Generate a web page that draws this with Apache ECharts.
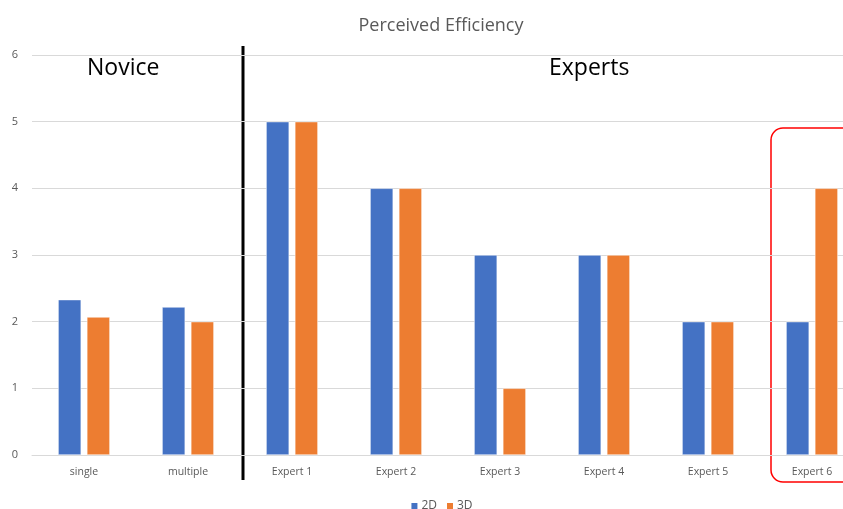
<!DOCTYPE html>
<html><head><meta charset="utf-8">
<script src="https://cdn.jsdelivr.net/npm/echarts@6/dist/echarts.min.js"></script>
<style>html,body{margin:0;padding:0;background:#fff;overflow:hidden;width:843px;height:509px}#c{width:882px;height:509px}</style>
</head><body><div id="c"></div>
<script>
const categories = ['single','multiple','Expert 1','Expert 2','Expert 3','Expert 4','Expert 5','Expert 6'];
const values2D = [2.33, 2.22, 5, 4, 3, 3, 2, 2];
const values3D = [2.07, 2.0, 5, 4, 1, 3, 2, 4];
const yTicks = [0,1,2,3,4,5,6];

const chart = echarts.init(document.getElementById('c'));
const font = "'Open Sans', 'Liberation Sans', sans-serif";
chart.setOption({
  animation:false,
  title:{text:'Perceived Efficiency',left:'center',top:12,textStyle:{fontFamily:font,fontSize:18,fontWeight:'normal',color:'#595959'}},
  legend:{top:495,left:'center',itemWidth:8,itemHeight:8,itemGap:8,icon:'rect',textStyle:{fontFamily:font,fontSize:12,color:'#595959',padding:[0,0,0,-2]},data:['2D','3D']},
  grid:{left:32,width:832,top:55,bottom:54,containLabel:false},
  xAxis:{type:'category',data:categories,axisTick:{show:false},axisLine:{lineStyle:{color:'#d9d9d9'}},
    axisLabel:{fontFamily:font,fontSize:10.5,color:'#595959',margin:12}},
  yAxis:{type:'value',min:yTicks[0],max:yTicks[yTicks.length-1],interval:1,axisLine:{show:false},axisTick:{show:false},
    splitLine:{lineStyle:{color:'#d9d9d9'}},axisLabel:{fontFamily:font,fontSize:11,color:'#595959',margin:14}},
  series:[
    {name:'2D',type:'bar',data:values2D,barWidth:23,barGap:'25%',itemStyle:{color:'#4472C4',borderColor:'#fff',borderWidth:0.5}},
    {name:'3D',type:'bar',data:values3D,barWidth:23,barGap:'25%',itemStyle:{color:'#ED7D31',borderColor:'#fff',borderWidth:0.5}}
  ],
  graphic:[
    {type:'line',shape:{x1:243,y1:46,x2:243,y2:480},style:{stroke:'#000',lineWidth:3}},
    {type:'text',left:87,top:57,style:{text:'Novice',font:"23px "+font,fill:'#000'}},
    {type:'text',left:549,top:57,style:{text:'Experts',font:"23px "+font,fill:'#000'}},
    {type:'rect',shape:{x:771,y:128,width:100,height:354,r:12},style:{fill:'none',stroke:'#ff0000',lineWidth:1.5}}
  ]
});
</script></body></html>
